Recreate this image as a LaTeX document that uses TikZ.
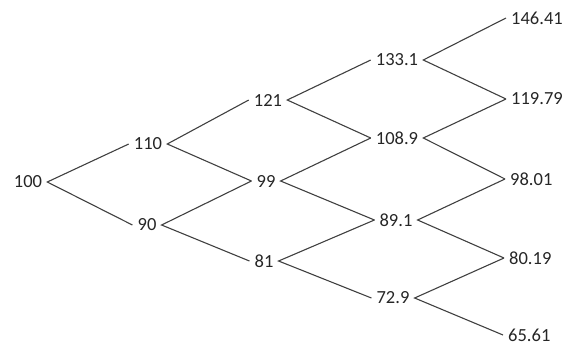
\documentclass[tikz,border=0pt]{standalone}
\usepackage{fontspec}
\setmainfont{Carlito}
\begin{document}
\begin{tikzpicture}[x=1pt,y=-1pt,
  val/.style={inner xsep=5pt,inner ysep=1pt,text=black!85,font=\fontsize{18.5}{20}\selectfont},
  leaf/.style={val,anchor=west},
  edge/.style={draw=black!75,line width=1.1pt}]
\useasboundingbox (0,0) rectangle (569,345);
\node[val] (n100) at (28,182) {100};
\node[val] (n110) at (148,144) {110};
\node[val] (n90) at (147,225) {90};
\node[val] (n121) at (268,100) {121};
\node[val] (n99) at (266,181) {99};
\node[val] (n81) at (264,261) {81};
\node[val] (n1331) at (397,60) {133.1};
\node[val] (n1089) at (397,138) {108.9};
\node[val] (n891) at (396,220) {89.1};
\node[val] (n729) at (393,298) {72.9};
\node[leaf] (n14641) at (506,18) {146.41};
\node[leaf] (n11979) at (506,99) {119.79};
\node[leaf] (n9801) at (505,179) {98.01};
\node[leaf] (n8019) at (504,258) {80.19};
\node[leaf] (n6561) at (503,335) {65.61};
\draw[edge] (n110.west) -- (n100.east) -- (n90.west);
\draw[edge] (n121.west) -- (n110.east) -- (n99.west);
\draw[edge] (n99.west) -- (n90.east) -- (n81.west);
\draw[edge] (n1331.west) -- (n121.east) -- (n1089.west);
\draw[edge] (n1089.west) -- (n99.east) -- (n891.west);
\draw[edge] (n891.west) -- (n81.east) -- (n729.west);
\draw[edge] (n14641.west) -- (n1331.east) -- (n11979.west);
\draw[edge] (n11979.west) -- (n1089.east) -- (n9801.west);
\draw[edge] (n9801.west) -- (n891.east) -- (n8019.west);
\draw[edge] (n8019.west) -- (n729.east) -- (n6561.west);
\end{tikzpicture}
\end{document}
